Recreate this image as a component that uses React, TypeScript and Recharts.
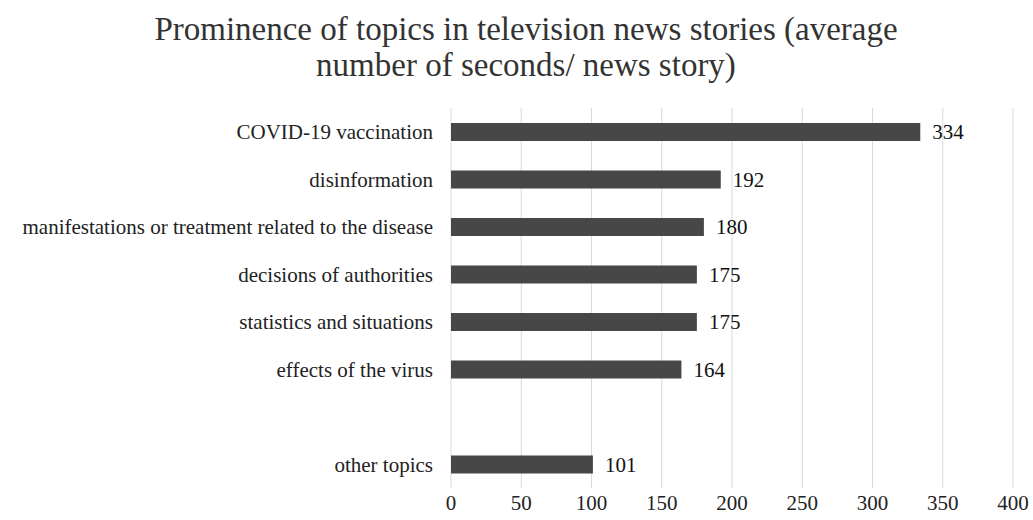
import { Bar, BarChart, CartesianGrid, LabelList, XAxis, YAxis } from "recharts";

// average number of seconds per news story, by topic
const topics = [
  "COVID-19 vaccination",
  "disinformation",
  "manifestations or treatment related to the disease",
  "decisions of authorities",
  "statistics and situations",
  "effects of the virus",
  "",
  "other topics",
];
const seconds: (number | null)[] = [334, 192, 180, 175, 175, 164, null, 101];
const xTicks = [0, 50, 100, 150, 200, 250, 300, 350, 400];

const data = topics.map((topic, i) => ({ topic, seconds: seconds[i] }));

const serif = "'Liberation Serif', 'Times New Roman', serif";

export default function App() {
  return (
    <div
      style={{
        position: "absolute",
        left: 0,
        top: 0,
        width: 1033,
        height: 520,
        background: "#fff",
        fontFamily: serif,
      }}
    >
      <div
        style={{
          position: "absolute",
          left: 0,
          top: 11,
          width: 1052,
          textAlign: "center",
          fontSize: 33,
          lineHeight: "36px",
          color: "#333",
        }}
      >
        Prominence of topics in television news stories (average
        <br />
        number of seconds/ news story)
      </div>
      <BarChart
        width={1033}
        height={520}
        data={data}
        layout="vertical"
        margin={{ top: 108, right: 20, bottom: 2, left: 0 }}
        style={{ position: "absolute", left: 0, top: 0 }}
      >
        <CartesianGrid horizontal={false} stroke="#d9d9d9" />
        <XAxis
          type="number"
          domain={[0, 400]}
          ticks={xTicks}
          axisLine={false}
          tickLine={false}
          height={30}
          tickMargin={1}
          tick={{ fontSize: 21, fill: "#222", fontFamily: serif }}
        />
        <YAxis
          type="category"
          dataKey="topic"
          width={451}
          axisLine={false}
          tickLine={false}
          tickMargin={12}
          interval={0}
          tick={{ fontSize: 21, fill: "#222", fontFamily: serif }}
        />
        <Bar dataKey="seconds" fill="#474747" barSize={18} isAnimationActive={false}>
          <LabelList
            dataKey="seconds"
            position="right"
            offset={12}
            style={{ fontSize: 21, fill: "#111", fontFamily: serif }}
          />
        </Bar>
      </BarChart>
    </div>
  );
}
